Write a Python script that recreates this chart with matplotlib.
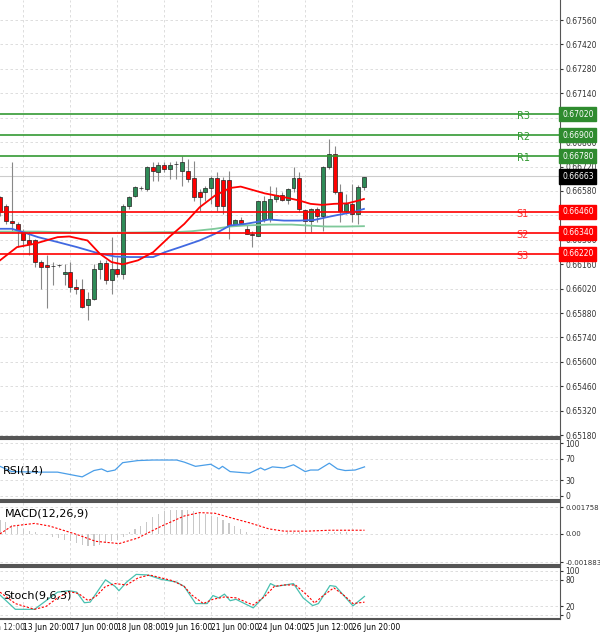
import numpy as np
import matplotlib
matplotlib.use("Agg")
import matplotlib.pyplot as plt

# --- data ---
opens = [0.66544, 0.66496, 0.66406, 0.66391, 0.66353, 0.66296, 0.66296, 0.66172, 0.66157, 0.66149,
         0.66153, 0.66106, 0.66115, 0.66029, 0.66020, 0.65925, 0.65963, 0.66134, 0.66166, 0.66067,
         0.66134, 0.66106, 0.66496, 0.66553, 0.66597, 0.66591, 0.66715, 0.66690, 0.66730, 0.66705,
         0.66734, 0.66692, 0.66692, 0.66654, 0.66572, 0.66572, 0.66597, 0.66654, 0.66645, 0.66645,
         0.66391, 0.66416, 0.66363, 0.66334, 0.66324, 0.66420, 0.66420, 0.66534, 0.66559, 0.66530,
         0.66597, 0.66654, 0.66473, 0.66410, 0.66477, 0.66439, 0.66715, 0.66791, 0.66572, 0.66467,
         0.66506, 0.66448, 0.66605]
highs = [0.66553, 0.66506, 0.66744, 0.66401, 0.66363, 0.66353, 0.66306, 0.66182, 0.66210, 0.66172,
         0.66163, 0.66163, 0.66172, 0.66077, 0.66077, 0.66001, 0.66163, 0.66182, 0.66182, 0.66315,
         0.66201, 0.66506, 0.66553, 0.66610, 0.66610, 0.66725, 0.66744, 0.66744, 0.66744, 0.66744,
         0.66753, 0.66782, 0.66763, 0.66753, 0.66591, 0.66610, 0.66667, 0.66686, 0.66658, 0.66692,
         0.66420, 0.66429, 0.66382, 0.66353, 0.66525, 0.66553, 0.66610, 0.66601, 0.66572, 0.66597,
         0.66715, 0.66686, 0.66477, 0.66482, 0.66486, 0.66725, 0.66877, 0.66835, 0.66620, 0.66563,
         0.66620, 0.66616, 0.66662]
lows = [0.66439, 0.66391, 0.66344, 0.66258, 0.66258, 0.66210, 0.66144, 0.66020, 0.65906, 0.66039,
        0.66144, 0.66039, 0.66001, 0.65991, 0.65906, 0.65839, 0.65953, 0.66077, 0.66048, 0.65991,
        0.66086, 0.66077, 0.66477, 0.66544, 0.66585, 0.66582, 0.66639, 0.66639, 0.66686, 0.66648,
        0.66648, 0.66610, 0.66629, 0.66525, 0.66467, 0.66525, 0.66506, 0.66467, 0.66448, 0.66306,
        0.66391, 0.66391, 0.66334, 0.66258, 0.66324, 0.66401, 0.66401, 0.66515, 0.66525, 0.66506,
        0.66572, 0.66458, 0.66344, 0.66347, 0.66401, 0.66353, 0.66705, 0.66563, 0.66401, 0.66448,
        0.66401, 0.66391, 0.66585]
closes = [0.66458, 0.66410, 0.66395, 0.66353, 0.66296, 0.66277, 0.66172, 0.66144, 0.66144, 0.66149,
          0.66153, 0.66115, 0.66029, 0.66020, 0.65915, 0.65963, 0.66134, 0.66166, 0.66067, 0.66134,
          0.66106, 0.66496, 0.66544, 0.66605, 0.66597, 0.66715, 0.66692, 0.66730, 0.66705, 0.66728,
          0.66734, 0.66744, 0.66648, 0.66544, 0.66544, 0.66597, 0.66654, 0.66496, 0.66496, 0.66382,
          0.66416, 0.66397, 0.66334, 0.66330, 0.66525, 0.66525, 0.66534, 0.66559, 0.66530, 0.66591,
          0.66654, 0.66477, 0.66410, 0.66477, 0.66439, 0.66715, 0.66791, 0.66572, 0.66467, 0.66506,
          0.66448, 0.66605, 0.66658]

ma_red_x = [0, 2.9, 5.9, 9.8, 11.8, 14.9, 17, 19, 20.9, 23.5, 26.1, 28.8, 31.4, 34, 36.6, 39.2, 41,
            43.1, 45.1, 47.1, 49, 51, 52.9, 54.9, 56.9, 59.2, 61.1, 62]
ma_red_y = [0.66182, 0.66258, 0.66277, 0.66315, 0.66319, 0.66296, 0.66220, 0.66172, 0.66159, 0.66182,
            0.66229, 0.66315, 0.66391, 0.66486, 0.66553, 0.66597, 0.66605, 0.66585, 0.66566, 0.66553,
            0.66540, 0.66525, 0.66506, 0.66500, 0.66506, 0.66509, 0.66525, 0.66534]
ma_blue_x = [0, 2, 3.9, 6.5, 9.8, 13.1, 17, 19.6, 22.2, 26.1, 28.1, 30.7, 34, 36.6, 39.2, 41.8, 44.4,
             45.8, 48.4, 51, 53.6, 55.6, 57.5, 60.1, 62]
ma_blue_y = [0.66363, 0.66363, 0.66344, 0.66315, 0.66287, 0.66258, 0.66220, 0.66204, 0.66201, 0.66201,
             0.66229, 0.66258, 0.66296, 0.66334, 0.66382, 0.66391, 0.66406, 0.66416, 0.66410, 0.66410,
             0.66414, 0.66429, 0.66442, 0.66458, 0.66477]
ma_green_x = [0, 6.5, 9.8, 13.1, 18, 30, 32.7, 36.6, 39.2, 41.8, 45.8, 49.7, 52.3, 55.6, 58.8, 62]
ma_green_y = [0.66347, 0.66347, 0.66344, 0.66342, 0.66340, 0.66344, 0.66349, 0.66363, 0.66376, 0.66382,
              0.66387, 0.66387, 0.66382, 0.66376, 0.66376, 0.66378]

resistances = [("R1", 0.66780), ("R2", 0.66900), ("R3", 0.67020)]
supports = [("S1", 0.66460), ("S2", 0.66340), ("S3", 0.66220)]
last_price = 0.66663

rsi_x = [0, 2, 6.5, 9.8, 14, 16, 17.3, 18.3, 19.6, 20.9, 23.5, 26.1, 30.1, 31.4, 33.3, 35.9, 37.3,
         37.9, 39.2, 42.5, 44.4, 45.1, 46.4, 48.4, 50, 52, 52.9, 54.2, 56.1, 57.5, 58.8, 60.5, 62.1]
rsi_y = [56, 46, 45, 45, 36, 48, 51, 46, 49, 63, 67, 68, 68, 64, 56, 60, 51, 56, 46, 43, 53, 49, 55,
         53, 59, 46, 49, 49, 62, 51, 48, 49, 55]

macd_hist = [9, 8, 6, 5, 3, 2, 1, 0, -1, -2, -3, -4, -5, -6, -7, -8, -8, -7, -6, -5, -4, -2, 1, 3, 5,
             8, 11, 13, 15, 16, 16, 16, 16, 15, 14, 13, 12, 11, 9, 7, 5, 3, 1, 0, -1, -1, 0, 0, 0, 1,
             1, 1, 0, 0, 0, 0, 1, 1, 1, 1, 0, 0, 0]  # x 1e-4
macd_sig_x = [0, 2, 5.9, 8.5, 13.1, 16.3, 20.3, 23.5, 27.5, 31.4, 34, 36.6, 39.9, 42.5, 45.8, 48.4,
              52.3, 56.2, 62.1]
macd_sig_y = [0, 5.1, 6.9, 5.1, -0.4, -4.9, -6.4, -2.7, 5.1, 11.8, 14.0, 13.6, 10.0, 7.3, 3.3, 1.8,
              1.8, 2.4, 2.4]  # x 1e-4

st_main_zx = [0, 40, 90, 120, 150, 180, 200, 220, 235, 275, 300, 310, 330, 355, 385, 420, 460, 480,
              510, 540, 555, 570, 585, 600, 615, 660, 685, 705, 720, 765, 790, 815, 830, 860, 875, 920, 950]
st_main = [45.5, 13.6, 13.6, 32.8, 51.9, 55.1, 51.9, 28.3, 29.6, 79.4, 64.7, 55.1, 74.3, 91.5, 90.2,
           80.6, 74.3, 64.7, 26.4, 26.4, 44.3, 39.2, 47.5, 32.8, 36, 16.8, 39.2, 71, 64.7, 71, 39.2,
           21.9, 26.4, 66.6, 64.7, 21.3, 42.4]
st_sig_zx = [0, 40, 90, 120, 150, 180, 205, 230, 250, 275, 300, 330, 360, 390, 420, 450, 480, 500,
             530, 555, 585, 615, 660, 690, 715, 740, 770, 800, 820, 840, 870, 900, 920, 950]
st_sig = [51.9, 26.4, 13.6, 20, 39.2, 53.2, 48.7, 32.8, 42.4, 64.7, 71, 67.9, 83.8, 90.2, 83.8, 77.4,
          64.7, 45.5, 26.4, 36, 41.1, 39.2, 23.2, 42.4, 64.7, 67.9, 67.9, 45.5, 27.7, 42.4, 61.5,
          42.4, 26.4, 29.6]

tick_pos = [-4, 4, 12, 20, 28, 36, 44, 52, 60]
tick_labels = ["12 Jun 12:00", "13 Jun 20:00", "17 Jun 00:00", "18 Jun 08:00", "19 Jun 16:00",
               "21 Jun 00:00", "24 Jun 04:00", "25 Jun 12:00", "26 Jun 20:00"]
price_ticks = [0.65180, 0.65320, 0.65460, 0.65600, 0.65740, 0.65880, 0.66020, 0.66160, 0.66300,
               0.66440, 0.66580, 0.66720, 0.66860, 0.67000, 0.67140, 0.67280, 0.67420, 0.67560]

GREEN = "#2e8b57"
RED = "#ff0000"
XL = (0, 95.4)
FS = 5.5

fig = plt.figure(figsize=(6.0, 6.34), dpi=100)
H = 634.0
def panel(top, bottom):
    return fig.add_axes([0, 1 - bottom / H, 560 / 600, (bottom - top) / H])

ax = panel(0, 437)
ax_rsi = panel(439, 500)
ax_macd = panel(502, 565)
ax_st = panel(567, 619)

for a in (ax, ax_rsi, ax_macd, ax_st):
    a.yaxis.tick_right()
    a.tick_params(axis="y", labelsize=FS, length=2, pad=2, colors="#333333")
    a.set_xticks(tick_pos)
    a.set_xlim(*XL)
    a.tick_params(axis="x", length=0, labelbottom=False)
    a.grid(True, color="#d8d8d8", linestyle=(0, (3, 3)), linewidth=0.6)
    a.set_axisbelow(True)
    a.spines["left"].set_visible(False)
    for s in ("top", "bottom", "right"):
        a.spines[s].set_color("#555555")
    a.spines["top"].set_linewidth(1.5)
    a.spines["bottom"].set_linewidth(1.5)
ax.spines["top"].set_visible(False)

# --- candles ---
idx = np.arange(len(opens))
for i in idx:
    o, h, l, c = opens[i], highs[i], lows[i], closes[i]
    ax.vlines(i, l, h, color="#888888", linewidth=0.8, zorder=2)
    col = GREEN if c >= o else RED
    ax.bar(i, max(abs(c - o), 0.000015), bottom=min(o, c), width=0.68, color=col,
           edgecolor="#222222", linewidth=0.5, zorder=3)

ax.plot(ma_green_x, ma_green_y, color="#7fc99a", linewidth=1.3, zorder=4)
ax.plot(ma_blue_x, ma_blue_y, color="#4169e1", linewidth=1.3, zorder=4)
ax.plot(ma_red_x, ma_red_y, color=RED, linewidth=1.3, zorder=4)

ax.axhline(last_price, color="#cccccc", linewidth=0.8, zorder=1)
for name, v in resistances:
    ax.axhline(v, color="#339933", linewidth=1.2, zorder=5)
    ax.text(88.0, v - 0.00012, name, color="#339933", fontsize=7, va="center")
for name, v in supports:
    ax.axhline(v, color=RED, linewidth=1.2, zorder=5)
    ax.text(88.0, v - 0.00012, name, color="#ff3333", fontsize=7, va="center")

ax.set_ylim(0.65169, 0.67675)
ax.set_yticks(price_ticks)
ax.set_yticklabels(["%.5f" % p for p in price_ticks])
ax.set_xlim(*XL)

def tag(a, y, text, fc):
    a.annotate(text, xy=(1.0, y), xycoords=("axes fraction", "data"), xytext=(1.5, 0),
               textcoords="offset points", fontsize=FS, color="white", va="center",
               bbox=dict(boxstyle="square,pad=0.35", fc=fc, ec=fc), zorder=10)

for name, v in resistances:
    tag(ax, v, "%.5f" % v, "#2e8b2e")
for name, v in supports:
    tag(ax, v, "%.5f" % v, RED)
tag(ax, last_price, "%.5f" % last_price, "black")

# --- RSI ---
ax_rsi.plot(rsi_x, rsi_y, color="#4a9ee8", linewidth=0.9)
ax_rsi.set_ylim(-8, 108)
ax_rsi.set_yticks([0, 30, 70, 100])
ax_rsi.text(0.5, 49, "RSI(14)", fontsize=8, va="center")

# --- MACD ---
ax_macd.bar(idx, np.array(macd_hist) * 1e-4, width=0.2, color="#c8c8c8")
ax_macd.plot(macd_sig_x, np.array(macd_sig_y) * 1e-4, color=RED, linestyle=(0, (2, 1.5)), linewidth=0.8)
ax_macd.set_ylim(-0.00205, 0.0021)
ax_macd.set_yticks([-0.001883, 0.0, 0.001758])
ax_macd.set_yticklabels(["-0.001883", "0.00", "0.001758"])
ax_macd.tick_params(axis="y", labelsize=5)
ax_macd.text(0.8, 0.00135, "MACD(12,26,9)", fontsize=8, va="center")
ax_macd.set_xlim(*XL)

# --- Stochastic ---
zx_per_bar = 15.3
ax_st.plot(np.array(st_main_zx) / zx_per_bar, st_main, color="#48c0b0", linewidth=0.9)
ax_st.plot(np.array(st_sig_zx) / zx_per_bar, st_sig, color=RED, linestyle=(0, (2, 1.5)), linewidth=0.8)
ax_st.set_ylim(-8, 108)
ax_st.set_yticks([0, 20, 80, 100])
ax_st.text(0.5, 45, "Stoch(9,6,3)", fontsize=8, va="center")
ax_st.tick_params(axis="x", labelbottom=True, labelsize=FS, pad=3)
ax_st.set_xticklabels(tick_labels, ha="left")
ax_st.set_xlim(*XL)
# first date label sits left of the view and is cut by the figure edge
ax_st.annotate(tick_labels[0], xy=(tick_pos[0], 0), xycoords=("data", "axes fraction"),
               xytext=(0, -3), textcoords="offset points", fontsize=FS, ha="left", va="top",
               color="#333333", annotation_clip=False)

fig.savefig("out.png", dpi=100)
